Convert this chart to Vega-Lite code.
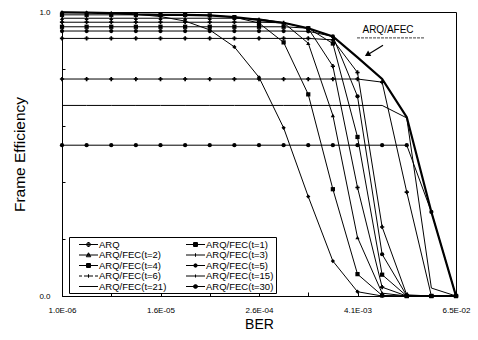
{
  "$schema": "https://vega.github.io/schema/vega-lite/v6.json",
  "width": 394,
  "height": 284,
  "autosize": {"type": "none"},
  "padding": {"left": 62, "top": 12, "right": 22, "bottom": 44},
  "background": "white",
  "config": {
    "font": "Liberation Sans",
    "view": {"stroke": "black", "strokeWidth": 1},
    "axis": {"grid": false, "domainColor": "black", "tickColor": "black", "labelColor": "black", "titleColor": "black", "titleFontWeight": "normal"}
  },
  "data": {
    "values": [
      {"ber": 0.000001, "arq": 0.999, "t1": 0.99, "t2": 0.978, "t3": 0.964, "t4": 0.948, "t5": 0.933, "t6": 0.907, "t15": 0.764, "t21": 0.671, "t30": 0.531, "afec": 0.999},
      {"ber": 0.000002, "arq": 0.998, "t1": 0.99, "t2": 0.978, "t3": 0.964, "t4": 0.948, "t5": 0.933, "t6": 0.907, "t15": 0.764, "t21": 0.671, "t30": 0.531, "afec": 0.998},
      {"ber": 0.000004, "arq": 0.996, "t1": 0.99, "t2": 0.978, "t3": 0.964, "t4": 0.948, "t5": 0.933, "t6": 0.907, "t15": 0.764, "t21": 0.671, "t30": 0.531, "afec": 0.996},
      {"ber": 0.000008, "arq": 0.992, "t1": 0.99, "t2": 0.978, "t3": 0.964, "t4": 0.948, "t5": 0.933, "t6": 0.907, "t15": 0.764, "t21": 0.671, "t30": 0.531, "afec": 0.992},
      {"ber": 0.000016, "arq": 0.984, "t1": 0.99, "t2": 0.978, "t3": 0.964, "t4": 0.948, "t5": 0.933, "t6": 0.907, "t15": 0.764, "t21": 0.671, "t30": 0.531, "afec": 0.99},
      {"ber": 0.000032, "arq": 0.968, "t1": 0.99, "t2": 0.978, "t3": 0.964, "t4": 0.948, "t5": 0.933, "t6": 0.907, "t15": 0.764, "t21": 0.671, "t30": 0.531, "afec": 0.99},
      {"ber": 0.000064, "arq": 0.937, "t1": 0.988, "t2": 0.978, "t3": 0.964, "t4": 0.948, "t5": 0.933, "t6": 0.907, "t15": 0.764, "t21": 0.671, "t30": 0.531, "afec": 0.988},
      {"ber": 0.000128, "arq": 0.877, "t1": 0.982, "t2": 0.978, "t3": 0.964, "t4": 0.948, "t5": 0.933, "t6": 0.907, "t15": 0.764, "t21": 0.671, "t30": 0.531, "afec": 0.982},
      {"ber": 0.000256, "arq": 0.77, "t1": 0.961, "t2": 0.976, "t3": 0.964, "t4": 0.948, "t5": 0.933, "t6": 0.907, "t15": 0.764, "t21": 0.671, "t30": 0.531, "afec": 0.972},
      {"ber": 0.000512, "arq": 0.592, "t1": 0.893, "t2": 0.962, "t3": 0.962, "t4": 0.948, "t5": 0.933, "t6": 0.907, "t15": 0.764, "t21": 0.671, "t30": 0.531, "afec": 0.962},
      {"ber": 0.001024, "arq": 0.35, "t1": 0.71, "t2": 0.89, "t3": 0.942, "t4": 0.943, "t5": 0.932, "t6": 0.907, "t15": 0.764, "t21": 0.671, "t30": 0.531, "afec": 0.943},
      {"ber": 0.002048, "arq": 0.123, "t1": 0.376, "t2": 0.636, "t3": 0.809, "t4": 0.889, "t5": 0.914, "t6": 0.902, "t15": 0.764, "t21": 0.671, "t30": 0.531, "afec": 0.914},
      {"ber": 0.004096, "arq": 0.015, "t1": 0.077, "t2": 0.206, "t3": 0.382, "t4": 0.56, "t5": 0.703, "t6": 0.787, "t15": 0.764, "t21": 0.671, "t30": 0.531, "afec": 0.84},
      {"ber": 0.008192, "arq": 0.0, "t1": 0.002, "t2": 0.01, "t3": 0.031, "t4": 0.075, "t5": 0.147, "t6": 0.243, "t15": 0.753, "t21": 0.671, "t30": 0.531, "afec": 0.764},
      {"ber": 0.016384, "arq": 0.0, "t1": 0.0, "t2": 0.0, "t3": 0.0, "t4": 0.0, "t5": 0.001, "t6": 0.004, "t15": 0.366, "t21": 0.627, "t30": 0.531, "afec": 0.63},
      {"ber": 0.032768, "arq": 0.0, "t1": 0.0, "t2": 0.0, "t3": 0.0, "t4": 0.0, "t5": 0.0, "t6": 0.0, "t15": 0.0, "t21": 0.028, "t30": 0.296, "afec": 0.296},
      {"ber": 0.065536, "arq": 0.0, "t1": 0.0, "t2": 0.0, "t3": 0.0, "t4": 0.0, "t5": 0.0, "t6": 0.0, "t15": 0.0, "t21": 0.0, "t30": 0.0, "afec": 0.0}
    ]
  },
  "resolve": {"scale": {"shape": "independent"}, "legend": {"shape": "independent"}},
  "layer": [
    {
      "transform": [{"fold": ["arq", "t1", "t2", "t3", "t4", "t5", "t6", "t15", "t21", "t30"], "as": ["series", "eff"]}],
      "mark": {"type": "line", "color": "black", "strokeWidth": 1},
      "encoding": {
        "x": {
          "field": "ber", "type": "quantitative",
          "scale": {"type": "log", "domain": [0.000001, 0.065536], "nice": false},
          "axis": {
            "title": "BER", "titleFontSize": 14, "titlePadding": 3,
            "values": [0.000001, 0.000004, 0.000016, 0.000064, 0.000256, 0.001024, 0.004096, 0.016384, 0.065536],
            "labelExpr": "datum.value < 2e-6 ? '1.0E-06' : datum.value < 1e-5 ? '' : datum.value < 3e-5 ? '1.6E-05' : datum.value < 1e-4 ? '' : datum.value < 5e-4 ? '2.6E-04' : datum.value < 2e-3 ? '' : datum.value < 8e-3 ? '4.1E-03' : datum.value < 3e-2 ? '' : '6.5E-02'",
            "labelFontSize": 8, "labelPadding": 14, "tickSize": -4, "labelOverlap": false, "labelFlush": false, "labelBound": false, "labelAlign": "center"
          }
        },
        "y": {
          "field": "eff", "type": "quantitative",
          "scale": {"domain": [0, 1], "nice": false},
          "axis": {
            "title": "Frame Efficiency", "titleFontSize": 15.5, "titlePadding": 11,
            "values": [0, 0.1, 0.2, 0.3, 0.4, 0.5, 0.6, 0.7, 0.8, 0.9, 1],
            "labelExpr": "datum.value == 0 ? '0.0' : datum.value == 0.5 ? '0.5' : datum.value == 1 ? '1.0' : ''",
            "labelFontSize": 8, "labelPadding": 15, "tickSize": -3, "labelOverlap": false, "labelFlush": false
          }
        },
        "detail": {"field": "series"}
      }
    },
    {
      "mark": {"type": "line", "color": "black", "strokeWidth": 2.2},
      "encoding": {
        "x": {"field": "ber", "type": "quantitative"},
        "y": {"field": "afec", "type": "quantitative"}
      }
    },
    {
      "transform": [{"fold": ["arq", "t1", "t2", "t3", "t4", "t5", "t6", "t15", "t21", "t30"], "as": ["series", "eff"]}],
      "mark": {"type": "point", "filled": true, "color": "black", "size": 18, "opacity": 1},
      "encoding": {
        "x": {"field": "ber", "type": "quantitative"},
        "y": {"field": "eff", "type": "quantitative"},
        "shape": {
          "field": "series", "type": "nominal",
          "scale": {
            "domain": ["arq", "t1", "t2", "t3", "t4", "t5", "t6", "t15", "t21", "t30"],
            "range": ["diamond", "square", "triangle-up", "cross", "square", "circle", "cross", "cross", "M0,0L0.01,0", "circle"]
          },
          "legend": null
        }
      }
    },
    {
      "transform": [{"fold": ["arq", "t1", "t2", "t3", "t4", "t5", "t6", "t15", "t21", "t30"], "as": ["series", "eff"]}],
      "mark": {"type": "point", "filled": false, "color": "black", "opacity": 0},
      "encoding": {
        "x": {"field": "ber", "type": "quantitative"},
        "y": {"field": "eff", "type": "quantitative"},
        "shape": {
          "field": "series", "type": "nominal",
          "scale": {
            "domain": ["arq", "t1", "t2", "t3", "t4", "t5", "t6", "t15", "t21", "t30"],
            "range": [
              "M-1.9,0L1.9,0M0,-0.5L0.5,0L0,0.5L-0.5,0ZM-0.25,-0.25L0.25,-0.25M-0.25,0.25L0.25,0.25M-0.1,-0.4L0.1,-0.4M-0.1,0.4L0.1,0.4",
              "M-1.9,0L1.9,0M-0.4,-0.4L0.4,-0.4L0.4,0.4L-0.4,0.4ZM-0.4,-0.2L0.4,-0.2M-0.4,0.2L0.4,0.2",
              "M-1.9,0L1.9,0M0,-0.45L0.45,0.35L-0.45,0.35ZM-0.11,-0.25L0.11,-0.25M-0.22,-0.05L0.22,-0.05M-0.34,0.15L0.34,0.15",
              "M-1.9,0L1.9,0M0,-0.35L0,0.35",
              "M-1.9,0L1.9,0M-0.4,-0.4L0.4,-0.4L0.4,0.4L-0.4,0.4ZM-0.4,-0.2L0.4,-0.2M-0.4,0.2L0.4,0.2",
              "M-1.9,0L1.9,0M0.35,0L0.25,0.25L0,0.35L-0.25,0.25L-0.35,0L-0.25,-0.25L0,-0.35L0.25,-0.25ZM-0.29,-0.2L0.29,-0.2M-0.29,0.2L0.29,0.2",
              "M-1.9,0L-1.3,0M-0.9,0L0.9,0M1.3,0L1.9,0M0,-0.35L0,0.35",
              "M-1.9,0L1.9,0M0,-0.3L0,0.3",
              "M-1.9,0L1.9,0",
              "M-1.9,0L1.9,0M0.4,0L0.28,0.28L0,0.4L-0.28,0.28L-0.4,0L-0.28,-0.28L0,-0.4L0.28,-0.28ZM-0.35,-0.2L0.35,-0.2M-0.35,0.2L0.35,0.2"
            ]
          },
          "legend": {
            "title": null, "orient": "none", "legendX": 7, "legendY": 225, "columns": 2, "direction": "horizontal",
            "strokeColor": "black", "fillColor": "white", "padding": 2,
            "labelFontSize": 9.5, "labelColor": "black",
            "symbolSize": 100, "symbolOffset": 12, "labelOffset": 5, "columnPadding": 11, "rowPadding": 0.5,
            "symbolOpacity": 1, "symbolFillColor": "black", "symbolStrokeColor": "black", "symbolStrokeWidth": 1,
            "labelExpr": "datum.value == 'arq' ? 'ARQ' : 'ARQ/FEC(t=' + slice(datum.value, 1) + ')'",
            "encode": {
              "symbols": {"update": {"fill": {"value": "black"}}}
            }
          }
        }
      }
    },
    {
      "data": {"values": [{"x1": 0.0084, "y1": 0.883, "x2": 0.0057, "y2": 0.853}]},
      "mark": {"type": "rule", "color": "black", "strokeWidth": 1.2},
      "encoding": {
        "x": {"field": "x1", "type": "quantitative"},
        "y": {"field": "y1", "type": "quantitative"},
        "x2": {"field": "x2"},
        "y2": {"field": "y2"}
      }
    },
    {
      "data": {"values": [{"x": 0.0054, "y": 0.85}]},
      "mark": {"type": "point", "shape": "triangle-up", "filled": true, "color": "black", "size": 40, "angle": 240, "opacity": 1},
      "encoding": {
        "x": {"field": "x", "type": "quantitative"},
        "y": {"field": "y", "type": "quantitative"}
      }
    },
    {
      "data": {"values": [{"x1": 0.00404, "x2": 0.0274, "y": 0.909}]},
      "mark": {"type": "rule", "color": "#666666", "strokeWidth": 1.2, "strokeDash": [3, 1]},
      "encoding": {
        "x": {"field": "x1", "type": "quantitative"},
        "x2": {"field": "x2"},
        "y": {"field": "y", "type": "quantitative"}
      }
    },
    {
      "data": {"values": [{"x": 0.00967, "y": 0.937, "label": "ARQ/AFEC"}]},
      "mark": {"type": "text", "fontSize": 10, "color": "black"},
      "encoding": {
        "x": {"field": "x", "type": "quantitative"},
        "y": {"field": "y", "type": "quantitative"},
        "text": {"field": "label"}
      }
    }
  ]
}
